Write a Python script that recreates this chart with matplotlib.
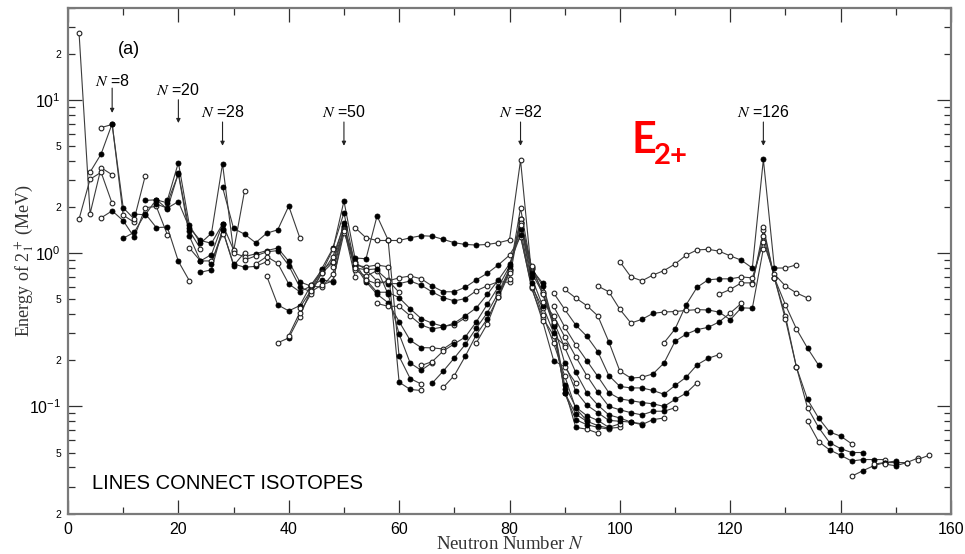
import math
import matplotlib
matplotlib.use("Agg")
import matplotlib.pyplot as plt
from matplotlib.ticker import LogLocator, FixedLocator, FuncFormatter, MultipleLocator, LogFormatterSciNotation

plt.rcParams['font.family'] = ['Liberation Sans', 'DejaVu Sans']
plt.rcParams['mathtext.fontset'] = 'stix'

# ---- isotope chains: neutron number, E(2+) in MeV, neutron numbers drawn with filled symbols ----
He_N = [2, 4, 6, 8]
He_E = [27.5, 1.81, 3.61, 3.25]
He_filled = []

Be_N = [2, 4, 6, 8]
Be_E = [1.67, 3.04, 3.37, 2.11]
Be_filled = []

C_N = [4, 6, 8, 10, 12]
C_E = [3.38, 4.44, 7.0, 1.77, 1.59]
C_filled = [6]

O_N = [6, 8, 10, 12, 14]
O_E = [6.6, 6.92, 1.98, 1.67, 3.2]
O_filled = [8, 10]

Ne_N = [6, 8, 10, 12, 14, 16, 18]
Ne_E = [1.70, 1.89, 1.63, 1.27, 1.98, 2.02, 1.32]
Ne_filled = [8, 10, 12]

Mg_N = [10, 12, 14, 16, 18, 20, 22]
Mg_E = [1.25, 1.37, 1.81, 1.47, 1.48, 0.885, 0.66]
Mg_filled = [10, 12, 14, 16, 18, 20]

Si_N = [12, 14, 16, 18, 20, 22, 24]
Si_E = [1.80, 1.78, 2.24, 1.94, 3.33, 1.40, 1.07]
Si_filled = [12, 14, 16, 18, 20, 22]

S_N = [14, 16, 18, 20, 22, 24, 26, 28]
S_E = [2.21, 2.23, 2.13, 3.29, 1.29, 0.89, 0.89, 1.33]
S_filled = [14, 16, 18, 20, 22, 24]

Ar_N = [16, 18, 20, 22, 24, 26, 28]
Ar_E = [2.09, 1.97, 2.17, 1.46, 1.21, 1.16, 1.55]
Ar_filled = [16, 18, 20, 22, 24, 26, 28]

Ca_N = [18, 20, 22, 24, 26, 28, 30, 32]
Ca_E = [2.21, 3.90, 1.52, 1.16, 1.35, 3.83, 1.03, 2.56]
Ca_filled = [18, 20, 22, 24, 26, 28]

Ti_N = [22, 24, 26, 28, 30]
Ti_E = [1.08, 0.89, 0.98, 1.55, 1.05]
Ti_filled = [24, 26, 28]

Cr_N = [24, 26, 28, 30, 32]
Cr_E = [0.75, 0.78, 1.43, 0.83, 1.01]
Cr_filled = [24, 26, 28, 30]

Fe_N = [26, 28, 30, 32, 34, 36]
Fe_E = [0.85, 1.41, 0.85, 0.81, 0.82, 0.88]
Fe_filled = [26, 28, 30, 32, 34]

Ni_N = [28, 30, 32, 34, 36, 38, 40, 42]
Ni_E = [2.70, 1.45, 1.33, 1.17, 1.35, 1.42, 2.03, 1.26]
Ni_filled = [28, 30, 32, 34, 36, 38, 40]

Zn_N = [30, 32, 34, 36, 38, 40, 42, 44, 46, 48, 50]
Zn_E = [1.00, 0.95, 0.99, 1.04, 1.08, 0.885, 0.65, 0.61, 0.60, 0.73, 1.49]
Zn_filled = [34, 36, 38, 40, 42]

Ge_N = [32, 34, 36, 38, 40, 42, 44, 46, 48, 50]
Ge_E = [0.90, 0.96, 1.02, 1.04, 0.83, 0.60, 0.56, 0.62, 0.66, 1.35]
Ge_filled = [38, 40, 42, 44]

Se_N = [34, 36, 38, 40, 42, 44, 46, 48, 50, 52]
Se_E = [0.85, 0.95, 0.86, 0.63, 0.56, 0.61, 0.67, 0.65, 1.45, 0.70]
Se_filled = [40, 42, 44, 46, 48]

Kr_N = [36, 38, 40, 42, 44, 46, 48, 50, 52, 54, 56, 58, 60]
Kr_E = [0.71, 0.46, 0.42, 0.455, 0.617, 0.777, 0.882, 1.565, 0.775, 0.707, 0.77, 0.665, 0.554]
Kr_filled = [38, 40, 42, 44, 46, 48, 50]

Sr_N = [38, 40, 42, 44, 46, 48, 50, 52, 54, 56, 58, 60, 62, 64]
Sr_E = [0.26, 0.28, 0.386, 0.573, 0.793, 1.077, 1.836, 0.832, 0.815, 0.837, 0.815, 0.144, 0.129, 0.127]
Sr_filled = [40, 46, 48, 50, 52, 60, 62]

Zr_N = [40, 42, 44, 46, 48, 50, 52, 54, 56, 58, 60, 62, 64]
Zr_E = [0.29, 0.41, 0.54, 0.75, 1.06, 2.19, 0.93, 0.92, 1.75, 1.22, 0.212, 0.152, 0.140]
Zr_filled = [50, 52, 54, 56, 58, 60, 62]

Mo_N = [42, 44, 46, 48, 50, 52, 54, 56, 58, 60, 62, 64, 66]
Mo_E = [0.44, 0.57, 0.74, 0.95, 1.51, 0.87, 0.78, 0.79, 0.54, 0.297, 0.192, 0.172, 0.193]
Mo_filled = [50, 52, 54, 56, 58, 60, 62, 64]

Ru_N = [44, 46, 48, 50, 52, 54, 56, 58, 60, 62, 64, 66, 68, 70]
Ru_E = [0.62, 0.74, 0.87, 1.43, 0.83, 0.65, 0.54, 0.475, 0.358, 0.270, 0.242, 0.241, 0.237, 0.265]
Ru_filled = [52, 54, 56, 58, 60, 62, 64]

Pd_N = [48, 50, 52, 54, 56, 58, 60, 62, 64, 66, 68, 70, 72]
Pd_E = [0.81, 1.42, 0.86, 0.67, 0.556, 0.556, 0.512, 0.434, 0.374, 0.349, 0.333, 0.341, 0.379]
Pd_filled = [56, 58, 60, 62, 64, 66, 68]

Cd_N = [50, 52, 54, 56, 58, 60, 62, 64, 66, 68, 70, 72, 74, 76, 78, 80]
Cd_E = [1.40, 0.80, 0.78, 0.658, 0.633, 0.633, 0.658, 0.618, 0.558, 0.513, 0.488, 0.506, 0.569, 0.613, 0.652, 0.645]
Cd_filled = [58, 60, 62, 64, 66, 68, 70, 72]

Sn_N = [52, 54, 56, 58, 60, 62, 64, 66, 68, 70, 72, 74, 76, 78, 80, 82, 84]
Sn_E = [1.47, 1.26, 1.21, 1.21, 1.21, 1.26, 1.30, 1.29, 1.23, 1.17, 1.14, 1.13, 1.14, 1.17, 1.22, 4.04, 0.73]
Sn_filled = [62, 64, 66, 68, 70, 72, 74]

Te_N = [54, 56, 58, 60, 62, 64, 66, 68, 70, 72, 74, 76, 78, 80, 82, 84, 86]
Te_E = [0.67, 0.63, 0.66, 0.69, 0.71, 0.68, 0.61, 0.56, 0.56, 0.60, 0.67, 0.74, 0.84, 0.97, 1.28, 0.61, 0.44]
Te_filled = [66, 68, 70, 72, 74, 76, 78]

Xe_N = [56, 58, 60, 62, 64, 66, 68, 70, 72, 74, 76, 78, 80, 82, 84, 86, 88, 90]
Xe_E = [0.47, 0.45, 0.45, 0.39, 0.34, 0.32, 0.33, 0.35, 0.39, 0.44, 0.54, 0.67, 0.85, 1.31, 0.59, 0.38, 0.29, 0.25]
Xe_filled = [64, 66, 68, 70, 72, 74, 76, 78, 80, 82]

Ba_N = [64, 66, 68, 70, 72, 74, 76, 78, 80, 82, 84, 86, 88, 90, 92]
Ba_E = [0.185, 0.196, 0.230, 0.256, 0.284, 0.357, 0.465, 0.605, 0.819, 1.436, 0.602, 0.360, 0.199, 0.181, 0.142]
Ba_filled = [70, 72, 74, 76, 78, 80, 82, 88]

Ce_N = [66, 68, 70, 72, 74, 76, 78, 80, 82, 84, 86, 88, 90, 92, 94]
Ce_E = [0.142, 0.170, 0.207, 0.254, 0.325, 0.409, 0.552, 0.789, 1.596, 0.641, 0.397, 0.258, 0.158, 0.097, 0.081]
Ce_filled = [66, 68, 70, 72, 74, 76, 78, 80, 82, 84, 92]

Nd_N = [68, 70, 72, 74, 76, 78, 80, 82, 84, 86, 88, 90, 92, 94, 96]
Nd_E = [0.133, 0.159, 0.213, 0.294, 0.374, 0.521, 0.774, 1.576, 0.697, 0.454, 0.302, 0.130, 0.073, 0.071, 0.067]
Nd_filled = [72, 74, 76, 78, 80, 82, 84, 86, 88, 90, 92]

Sm_N = [74, 76, 78, 80, 82, 84, 86, 88, 90, 92, 94, 96, 98]
Sm_E = [0.26, 0.347, 0.531, 0.768, 1.66, 0.747, 0.550, 0.334, 0.122, 0.082, 0.076, 0.073, 0.071]
Sm_filled = [82, 84, 86, 88, 90, 92, 94]

Gd_N = [78, 80, 82, 84, 86, 88, 90, 92, 94, 96, 98, 100]
Gd_E = [0.515, 0.743, 1.97, 0.784, 0.638, 0.344, 0.123, 0.089, 0.080, 0.075, 0.072, 0.073]
Gd_filled = [84, 86, 88, 90, 92, 94, 96, 98]

Dy_N = [80, 82, 84, 86, 88, 90, 92, 94, 96, 98, 100]
Dy_E = [0.68, 1.68, 0.80, 0.614, 0.335, 0.138, 0.099, 0.087, 0.081, 0.073, 0.077]
Dy_filled = [86, 88, 90, 92, 94, 96, 98]

Er_N = [82, 84, 86, 88, 90, 92, 94, 96, 98, 100, 102, 104]
Er_E = [1.58, 0.81, 0.56, 0.345, 0.192, 0.126, 0.102, 0.091, 0.081, 0.080, 0.079, 0.077]
Er_filled = [88, 90, 92, 94, 96, 98, 100, 102]

Yb_N = [82, 84, 86, 88, 90, 92, 94, 96, 98, 100, 102, 104, 106, 108]
Yb_E = [1.53, 0.82, 0.54, 0.358, 0.243, 0.167, 0.123, 0.102, 0.088, 0.084, 0.079, 0.076, 0.082, 0.084]
Yb_filled = [92, 94, 96, 98, 100, 102, 104, 106]

Hf_N = [86, 88, 90, 92, 94, 96, 98, 100, 102, 104, 106, 108, 110]
Hf_E = [0.48, 0.39, 0.285, 0.211, 0.159, 0.124, 0.100, 0.095, 0.091, 0.088, 0.093, 0.093, 0.098]
Hf_filled = [96, 98, 100, 102, 104, 106, 108]

W_N = [88, 90, 92, 94, 96, 98, 100, 102, 104, 106, 108, 110, 112, 114]
W_E = [0.45, 0.33, 0.252, 0.199, 0.157, 0.123, 0.112, 0.109, 0.106, 0.104, 0.100, 0.111, 0.122, 0.143]
W_filled = [94, 96, 98, 100, 102, 104, 106, 108, 110, 112]

Os_N = [88, 90, 92, 94, 96, 98, 100, 102, 104, 106, 108, 110, 112, 114, 116, 118]
Os_E = [0.55, 0.43, 0.34, 0.287, 0.228, 0.159, 0.135, 0.132, 0.132, 0.127, 0.120, 0.137, 0.155, 0.187, 0.206, 0.218]
Os_filled = [92, 94, 96, 98, 100, 102, 104, 106, 108, 110, 112, 114, 116]

Pt_N = [90, 92, 94, 96, 98, 100, 102, 104, 106, 108, 110, 112, 114, 116, 118, 120, 122]
Pt_E = [0.58, 0.51, 0.455, 0.39, 0.264, 0.170, 0.153, 0.155, 0.163, 0.192, 0.266, 0.296, 0.317, 0.328, 0.356, 0.407, 0.47]
Pt_filled = [98, 102, 106, 108, 110, 112, 114, 116, 118]

Hg_N = [96, 98, 100, 102, 104, 106, 108, 110, 112, 114, 116, 118, 120, 122, 124, 126]
Hg_E = [0.61, 0.56, 0.43, 0.35, 0.37, 0.405, 0.413, 0.416, 0.423, 0.428, 0.426, 0.412, 0.368, 0.440, 0.437, 1.07]
Hg_filled = [104, 106, 116, 118, 120, 122, 124]

Pb_N = [100, 102, 104, 106, 108, 110, 112, 114, 116, 118, 120, 122, 124, 126, 128, 130, 132]
Pb_E = [0.88, 0.70, 0.66, 0.72, 0.77, 0.85, 0.97, 1.05, 1.06, 1.03, 0.96, 0.90, 0.80, 4.09, 0.80, 0.80, 0.84]
Pb_filled = [122, 124, 126, 128]

Po_N = [108, 110, 112, 114, 116, 118, 120, 122, 124, 126, 128, 130, 132, 134]
Po_E = [0.26, 0.32, 0.46, 0.60, 0.67, 0.68, 0.68, 0.70, 0.69, 1.18, 0.73, 0.61, 0.55, 0.51]
Po_filled = [110, 112, 114, 116, 118, 120]

Rn_N = [118, 120, 122, 124, 126, 128, 130, 132, 134, 136]
Rn_E = [0.54, 0.58, 0.64, 0.64, 1.29, 0.69, 0.46, 0.32, 0.24, 0.186]
Rn_filled = [134, 136]

Ra_N = [124, 126, 128, 130, 132, 134, 136, 138, 140, 142]
Ra_E = [0.63, 1.41, 0.69, 0.39, 0.18, 0.111, 0.084, 0.068, 0.064, 0.057]
Ra_filled = [134, 136, 138, 140]

Th_N = [126, 128, 130, 132, 134, 136, 138, 140, 142, 144]
Th_E = [1.48, 0.69, 0.37, 0.18, 0.098, 0.073, 0.058, 0.053, 0.050, 0.050]
Th_filled = [136, 138, 140, 142, 144]

U_N = [134, 136, 138, 140, 142, 144, 146, 148]
U_E = [0.080, 0.059, 0.052, 0.048, 0.044, 0.045, 0.045, 0.045]
U_filled = [138, 140, 142, 144, 146]

Pu_N = [142, 144, 146, 148, 150]
Pu_E = [0.035, 0.038, 0.041, 0.043, 0.044]
Pu_filled = [144, 146, 148, 150]

Cm_N = [146, 148, 150, 152]
Cm_E = [0.042, 0.043, 0.043, 0.043]
Cm_filled = [148, 150]

Cf_N = [148, 150, 152, 154]
Cf_E = [0.042, 0.041, 0.043, 0.046]
Cf_filled = [150]

Fm_N = [154, 156]
Fm_E = [0.045, 0.048]
Fm_filled = []

chains = [
    (He_N, He_E, He_filled), (Be_N, Be_E, Be_filled), (C_N, C_E, C_filled),
    (O_N, O_E, O_filled), (Ne_N, Ne_E, Ne_filled), (Mg_N, Mg_E, Mg_filled),
    (Si_N, Si_E, Si_filled), (S_N, S_E, S_filled), (Ar_N, Ar_E, Ar_filled),
    (Ca_N, Ca_E, Ca_filled), (Ti_N, Ti_E, Ti_filled), (Cr_N, Cr_E, Cr_filled),
    (Fe_N, Fe_E, Fe_filled), (Ni_N, Ni_E, Ni_filled), (Zn_N, Zn_E, Zn_filled),
    (Ge_N, Ge_E, Ge_filled), (Se_N, Se_E, Se_filled), (Kr_N, Kr_E, Kr_filled),
    (Sr_N, Sr_E, Sr_filled), (Zr_N, Zr_E, Zr_filled), (Mo_N, Mo_E, Mo_filled),
    (Ru_N, Ru_E, Ru_filled), (Pd_N, Pd_E, Pd_filled), (Cd_N, Cd_E, Cd_filled),
    (Sn_N, Sn_E, Sn_filled), (Te_N, Te_E, Te_filled), (Xe_N, Xe_E, Xe_filled),
    (Ba_N, Ba_E, Ba_filled), (Ce_N, Ce_E, Ce_filled), (Nd_N, Nd_E, Nd_filled),
    (Sm_N, Sm_E, Sm_filled), (Gd_N, Gd_E, Gd_filled), (Dy_N, Dy_E, Dy_filled),
    (Er_N, Er_E, Er_filled), (Yb_N, Yb_E, Yb_filled), (Hf_N, Hf_E, Hf_filled),
    (W_N, W_E, W_filled), (Os_N, Os_E, Os_filled), (Pt_N, Pt_E, Pt_filled),
    (Hg_N, Hg_E, Hg_filled), (Pb_N, Pb_E, Pb_filled), (Po_N, Po_E, Po_filled),
    (Rn_N, Rn_E, Rn_filled), (Ra_N, Ra_E, Ra_filled), (Th_N, Th_E, Th_filled),
    (U_N, U_E, U_filled), (Pu_N, Pu_E, Pu_filled), (Cm_N, Cm_E, Cm_filled),
    (Cf_N, Cf_E, Cf_filled), (Fm_N, Fm_E, Fm_filled),
]

# magic numbers marked with arrows
magic_N = [8, 20, 28, 50, 82, 126]

x_ticks = [0, 20, 40, 60, 80, 100, 120, 140, 160]

# ---- figure ----
fig = plt.figure(figsize=(9.65, 5.54), dpi=100)
ax = fig.add_axes([68 / 965, 40.5 / 554, 883 / 965, 505.8 / 554])
ax.set_yscale('log')
ax.set_xlim(0, 160)
ax.set_ylim(0.02, 40)

line_col = '#3c3c3c'
for n_vals, e_vals, filled in chains:
    ax.plot(n_vals, e_vals, '-', color=line_col, lw=0.8, zorder=2)
    open_n = [n for n in n_vals if n not in filled]
    open_e = [e for n, e in zip(n_vals, e_vals) if n not in filled]
    fill_n = [n for n in n_vals if n in filled]
    fill_e = [e for n, e in zip(n_vals, e_vals) if n in filled]
    ax.plot(open_n, open_e, 'o', ms=3.4, mfc='white', mec='#202020', mew=0.8, zorder=3)
    ax.plot(fill_n, fill_e, 'o', ms=3.6, mfc='black', mec='black', mew=0.6, zorder=3)

# axes styling
for sp in ax.spines.values():
    sp.set_color('#7a7a7a')
    sp.set_linewidth(1.6)

ax.xaxis.set_major_locator(FixedLocator(x_ticks))
ax.xaxis.set_minor_locator(MultipleLocator(10))
ax.yaxis.set_major_locator(LogLocator(base=10, numticks=10))
ax.yaxis.set_minor_locator(LogLocator(base=10, subs=[2, 3, 4, 5, 6, 7, 8, 9], numticks=20))
ax.yaxis.set_major_formatter(LogFormatterSciNotation())


def minor_fmt(v, pos):
    m = round(v / 10 ** math.floor(math.log10(v) + 1e-9))
    return str(m) if m in (2, 5) else ''


ax.yaxis.set_minor_formatter(FuncFormatter(minor_fmt))
ax.tick_params(which='both', direction='in', top=True, right=True, color='#303030', width=0.9)
ax.tick_params(which='major', length=10, labelsize=11.5, pad=5)
ax.tick_params(which='minor', length=5, labelsize=7.5, pad=5)
ax.tick_params(axis='x', which='major', pad=6, labelsize=11.5)
ax.tick_params(axis='x', which='minor', labelbottom=False)

ax.set_xlabel('Neutron Number $N$', family=['Liberation Serif'], fontsize=13.5, color='#333333')
ax.xaxis.set_label_coords(0.5, -0.045)
ax.set_ylabel('Energy of 2$_1^+$ (MeV)', family=['Liberation Serif'], fontsize=13, color='#333333')
ax.yaxis.set_label_coords(-0.036, 0.50)

# magic number arrows
tr = ax.get_xaxis_transform()
label_y = {8: 0.855, 20: 0.837}
arrow_y = {8: (0.841, 0.792), 20: (0.818, 0.772)}
for n in magic_N:
    ly = label_y.get(n, 0.794)
    y0, y1 = arrow_y.get(n, (0.774, 0.727))
    ax.text(n, ly, r'$N$ =' + str(n), transform=tr, ha='center', va='center', fontsize=11.5)
    ax.annotate('', xy=(n, y1), xytext=(n, y0), xycoords=tr, textcoords=tr,
                arrowprops=dict(arrowstyle='-|>', lw=0.8, color='#222222', mutation_scale=6,
                                shrinkA=0, shrinkB=0))

ax.text(0.0685, 0.917, '(a)', transform=ax.transAxes, ha='center', va='center', fontsize=13)
ax.text(0.027, 0.0484, 'LINES CONNECT ISOTOPES', transform=ax.transAxes, ha='left',
        va='baseline', fontsize=14.5)

# red E_2+ tag
ax.text(0.6385, 0.713, 'E', transform=ax.transAxes, ha='left', va='baseline',
        fontsize=31, color='#ff0000', fontweight='bold', family=['Lato', 'DejaVu Sans'])
ax.text(0.664, 0.691, '2+', transform=ax.transAxes, ha='left', va='baseline',
        fontsize=21, color='#ff0000', fontweight='bold', family=['Lato', 'DejaVu Sans'])

fig.savefig('out.png', dpi=100)
